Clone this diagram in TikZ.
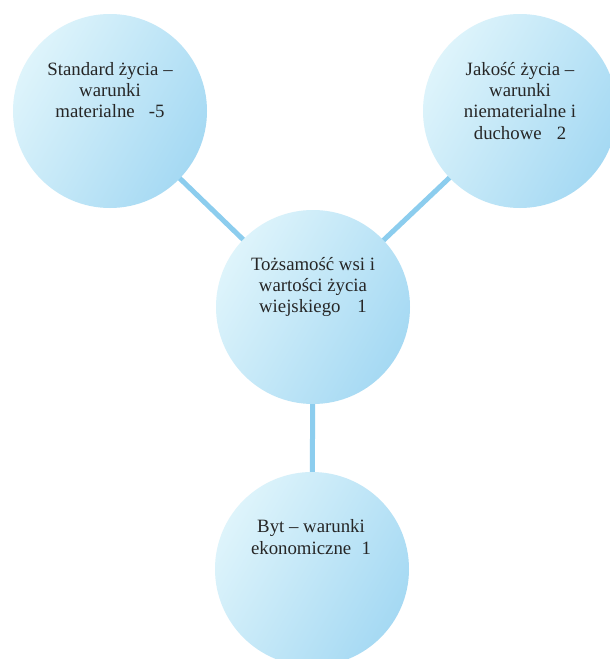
\documentclass[tikz,border=0pt]{standalone}
\usepackage{fontspec}
\setmainfont{Liberation Serif}
\definecolor{bubblelight}{RGB}{222,244,251}
\definecolor{bubbledark}{RGB}{165,217,243}
\definecolor{linkblue}{RGB}{140,205,238}
\tikzset{
  bubble/.style={circle, draw=none, minimum size=194pt, inner sep=0pt,
    top color=bubblelight, bottom color=bubbledark, shading angle=60},
  link/.style={draw=linkblue, line width=5pt},
  label/.style={font=\fontsize{18.8}{21.3}\selectfont, align=center, anchor=north, inner sep=0pt, text=black!85}
}
\begin{document}
\begin{tikzpicture}[x=1pt,y=-1pt]
\useasboundingbox (0,0) rectangle (610,659);
\fill[white] (0,0) rectangle (610,659);
\clip (0,0) rectangle (610,659);
\coordinate (tlc) at (110,111);
\coordinate (trc) at (520,111);
\coordinate (cc) at (313,307);
\coordinate (bc) at (312,569);
\draw[link] (tlc) -- (cc);
\draw[link] (trc) -- (cc);
\draw[link] (cc) -- (bc);
\node[bubble] (tl) at (tlc) {};
\node[bubble] (tr) at (trc) {};
\node[bubble] (c) at (cc) {};
\node[bubble] (b) at (bc) {};
\node[label] (tlt) at (110,62) {Standard życia --\\warunki\\materialne\hspace{0.75em}-5};
\node[label] (trt) at (520,62) {Jakość życia --\\warunki\\niematerialne i\\duchowe\hspace{0.8em}2};
\node[label] (ct) at (313,257) {Tożsamość wsi i\\wartości życia\\wiejskiego\hspace{0.9em}1};
\node[label] (bt) at (311,519.5) {Byt -- warunki\\ekonomiczne\hspace{0.55em}1};
\end{tikzpicture}
\end{document}
